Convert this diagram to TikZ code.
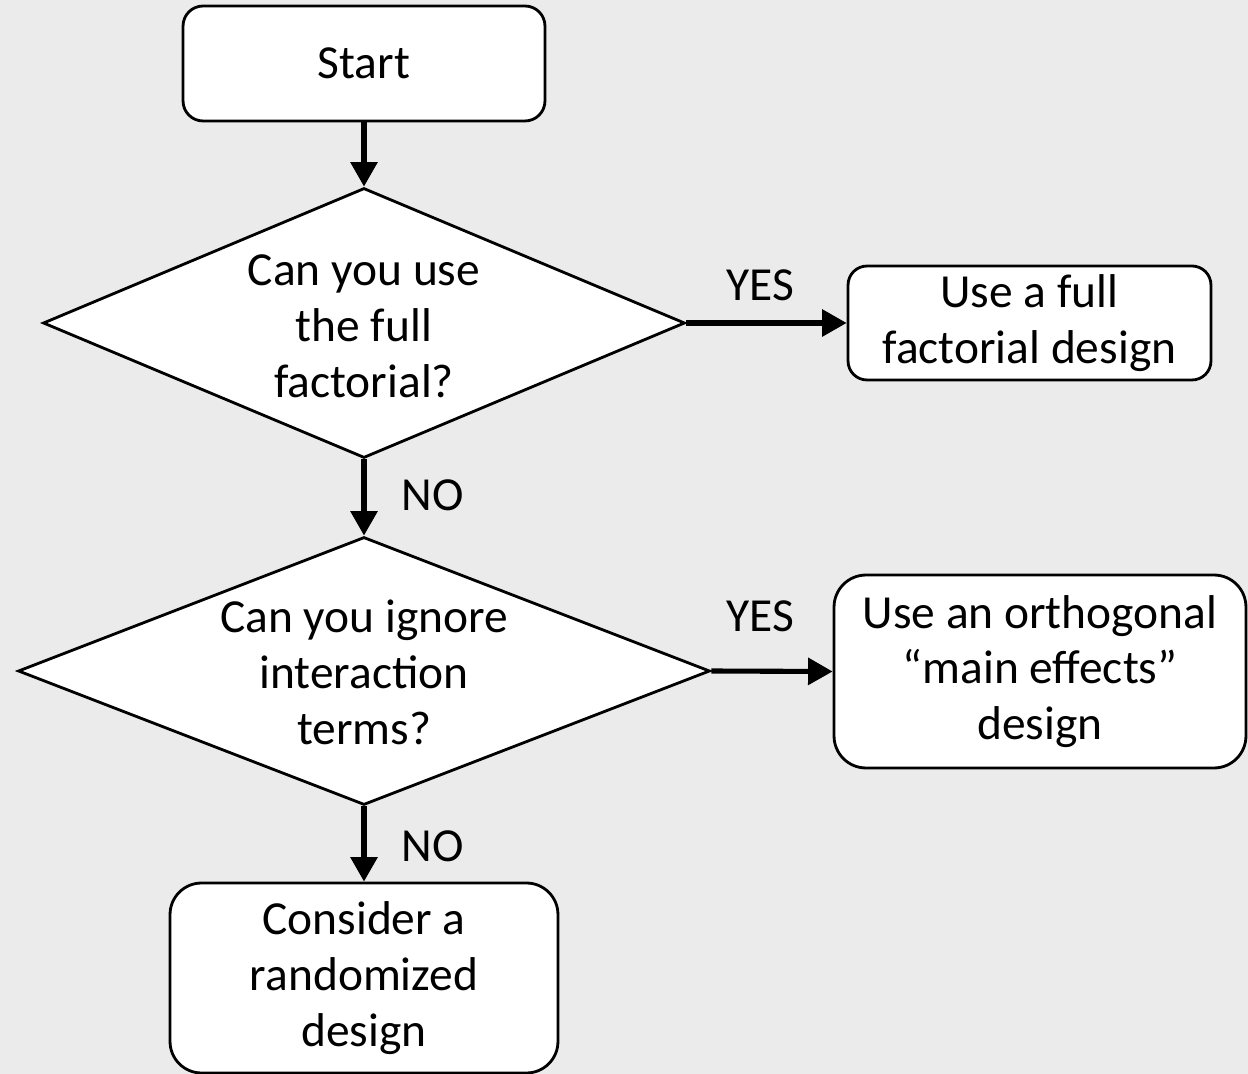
\documentclass[tikz,border=0pt]{standalone}
\usepackage{fontspec}
\setmainfont{Carlito}
\usepackage{tikz}
\usetikzlibrary{positioning, arrows.meta, shapes.geometric}
\definecolor{primaryColor}{RGB}{0, 0, 0}
\definecolor{boxFill}{RGB}{255, 255, 255}
\definecolor{pageColor}{RGB}{235, 235, 235}
\tikzset{
    flow_text/.style={
        align=center,
        text=primaryColor,
        font=\fontsize{27}{31.8}\selectfont
    },
    flow_box/.style={
        flow_text,
        rectangle,
        draw=primaryColor,
        fill=boxFill,
        line width=1.6pt,
        inner sep=0pt
    },
    flow_decision/.style={
        diamond,
        draw=primaryColor,
        fill=boxFill,
        line width=1.6pt,
        inner sep=0pt
    },
    flow_edge/.style={
        -{Triangle[length=14pt,width=15pt]},
        line width=2.9pt,
        draw=primaryColor
    }
}

\begin{document}
\begin{tikzpicture}[x=0.02cm, y=-0.02cm]
    \fill[pageColor] (0,0) rectangle (1248,1074);
    \useasboundingbox (0,0) rectangle (1248,1074);

    \node[flow_box, rounded corners=0.4cm, minimum width=7.24cm, minimum height=2.3cm] (start) at (364,63.5) {Start};

    \node[flow_decision, minimum width=12.84cm, minimum height=5.4cm] (q1) at (364,323) {};
    \node[flow_text] (q1text) at (364,326) {Can you use\\the full\\factorial?};

    \node[flow_box, rounded corners=0.38cm, minimum width=7.26cm, minimum height=2.28cm] (full) at (1029.5,323) {Use a full\\factorial design};

    \node[flow_decision, minimum width=13.84cm, minimum height=5.36cm] (q2) at (364,671) {};
    \node[flow_text] (q2text) at (364,672) {Can you ignore\\interaction\\terms?};

    \node[flow_box, rounded corners=0.64cm, minimum width=8.24cm, minimum height=3.86cm] (ortho) at (1040,671.5) {Use an orthogonal\\“main effects”\\design};

    \node[flow_box, rounded corners=0.63cm, minimum width=7.76cm, minimum height=3.8cm] (random) at (364,978) {Consider a\\randomized\\design};

    \node[flow_text] (yes1) at (760,285) {YES};
    \node[flow_text] (yes2) at (760,616) {YES};
    \node[flow_text] (no1) at (433,495) {NO};
    \node[flow_text] (no2) at (433,846) {NO};

    \draw[flow_edge] (start) -- (q1);
    \draw[flow_edge] (q1.east) -- (full.west);
    \draw[flow_edge] (q1.south) -- (q2.north);
    \draw[flow_edge] (q2.east) -- (ortho.west);
    \draw[flow_edge] (q2.south) -- (random.north);
\end{tikzpicture}
\end{document}
